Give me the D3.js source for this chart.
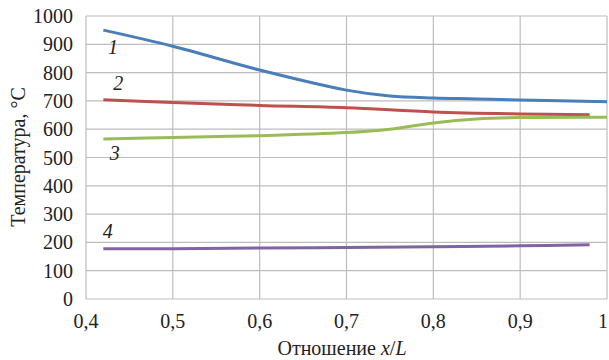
<!DOCTYPE html>
<html>
<head>
<meta charset="utf-8">
<script src="https://cdn.jsdelivr.net/npm/d3@7"></script>
<style>
    body { margin: 0; background: #fff; }
</style>
</head>
<body>
<svg id="chart" width="609" height="360" font-family="'Liberation Serif', 'Times New Roman', 'DejaVu Serif', serif" fill="#222"></svg>
<script>
const xTicks = [0.4, 0.5, 0.6, 0.7, 0.8, 0.9, 1.0];
const yTicks = [0, 100, 200, 300, 400, 500, 600, 700, 800, 900, 1000];

const series1 = [[0.42, 950], [0.5, 893], [0.6, 809], [0.7, 738], [0.75, 717], [0.8, 710], [0.85, 707], [0.9, 703], [1.0, 697]];
const series2 = [[0.42, 704], [0.5, 694], [0.6, 684], [0.7, 676], [0.8, 661], [0.9, 654], [0.98, 651]];
const series3 = [[0.42, 565], [0.5, 571], [0.6, 577], [0.7, 588], [0.75, 600], [0.8, 622], [0.85, 636], [0.9, 641], [1.0, 642]];
const series4 = [[0.42, 178], [0.5, 178], [0.6, 180], [0.7, 182], [0.8, 185], [0.9, 188], [0.98, 192]];

const seriesLabels = [
    {name: '1', data: series1, color: '#4a7ebb', lx: 0.431, ly: 866},
    {name: '2', data: series2, color: '#c0504d', lx: 0.437, ly: 738},
    {name: '3', data: series3, color: '#9bbb59', lx: 0.433, ly: 490},
    {name: '4', data: series4, color: '#8064a2', lx: 0.425, ly: 216}
];

function drawChart () {
    const svg = d3.select('#chart');
    const left = 86, right = 607, top = 16, bottom = 299;

    const x = d3.scaleLinear().domain([0.4, 1.0]).range([left, right]);
    const y = d3.scaleLinear().domain([0, 1000]).range([bottom, top]);
    const fmt = function (d) { return d === 1 ? '1' : d3.format('.1f')(d).replace('.', ','); };

    // grid
    svg.append('g')
        .selectAll('line')
        .data(yTicks)
        .enter()
        .append('line')
        .attr('x1', left)
        .attr('x2', right)
        .attr('y1', d => y(d))
        .attr('y2', d => y(d))
        .style('stroke', '#bdbdbd')
        .style('stroke-width', '1.2px');

    svg.append('g')
        .selectAll('line')
        .data(xTicks)
        .enter()
        .append('line')
        .attr('x1', d => x(d))
        .attr('x2', d => x(d))
        .attr('y1', top)
        .attr('y2', bottom)
        .style('stroke', '#bdbdbd')
        .style('stroke-width', '1.2px');

    // tick labels
    svg.append('g')
        .selectAll('text')
        .data(yTicks)
        .enter()
        .append('text')
        .attr('x', 73)
        .attr('y', d => y(d) + 7)
        .attr('text-anchor', 'end')
        .style('font-size', '20px')
        .text(d => d);

    svg.append('g')
        .selectAll('text')
        .data(xTicks)
        .enter()
        .append('text')
        .attr('x', d => d === 1 ? x(d) - 4 : x(d))
        .attr('y', 328)
        .attr('text-anchor', 'middle')
        .style('font-size', '20px')
        .text(fmt);

    // axis titles
    svg.append('text')
        .attr('transform', 'translate(25,' + 157 + ') rotate(-90)')
        .attr('text-anchor', 'middle')
        .style('font-size', '20px')
        .text('Температура, °С');

    const xt = svg.append('text')
        .attr('x', 342)
        .attr('y', 355)
        .attr('text-anchor', 'middle')
        .style('font-size', '20px');
    xt.append('tspan').text('Отношение ');
    xt.append('tspan').style('font-style', 'italic').text('x');
    xt.append('tspan').text('/');
    xt.append('tspan').style('font-style', 'italic').text('L');

    // lines
    const line = d3.line()
        .x(d => x(d[0]))
        .y(d => y(d[1]))
        .curve(d3.curveCatmullRom.alpha(0.5));

    svg.append('g')
        .selectAll('path')
        .data(seriesLabels)
        .enter()
        .append('path')
        .attr('d', d => line(d.data))
        .style('fill', 'none')
        .style('stroke', d => d.color)
        .style('stroke-width', '3px');

    svg.append('g')
        .selectAll('text')
        .data(seriesLabels)
        .enter()
        .append('text')
        .attr('x', d => x(d.lx))
        .attr('y', d => y(d.ly))
        .attr('text-anchor', 'middle')
        .style('font-size', '20px')
        .style('font-style', 'italic')
        .text(d => d.name);
}

drawChart();
</script>
</body>
</html>
